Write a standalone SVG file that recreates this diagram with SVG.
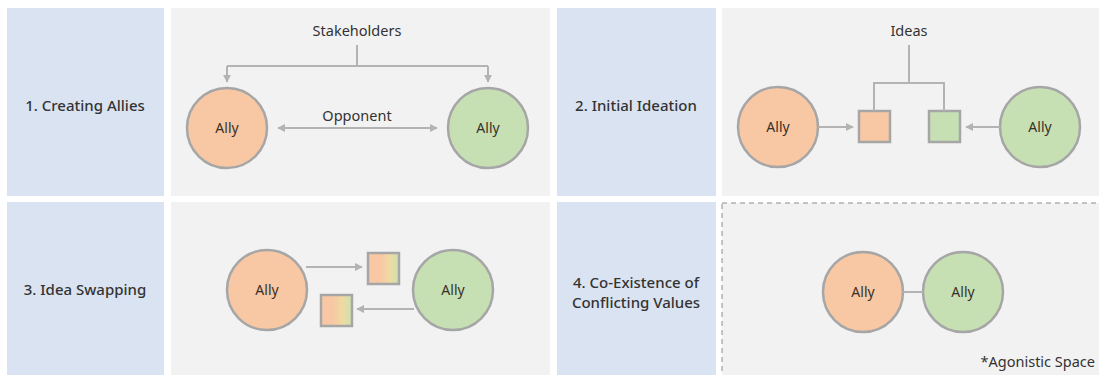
<svg xmlns="http://www.w3.org/2000/svg" width="1099" height="375" viewBox="0 0 1099 375">
<style>
.lbl{fill:#dae3f1}
.pan{fill:#f2f2f2}
.t{font-family:"Noto Sans","Liberation Sans",sans-serif;fill:#333}
.lt{font-size:15px;text-anchor:middle;font-weight:500}
.ct{font-size:14.5px;text-anchor:middle}
.ally{font-size:14px;text-anchor:middle;fill:#3a3028}
.or{fill:#f8c8a4;stroke:#a6a6a6;stroke-width:2.5}
.gr{fill:#c6e0b4;stroke:#a6a6a6;stroke-width:2.5}
.ln{fill:none;stroke:#b3b3b3;stroke-width:2}
</style>
<defs>
<marker id="ah" viewBox="0 0 10 10" refX="9" refY="5" markerWidth="4" markerHeight="4" orient="auto-start-reverse">
<path d="M0,0 L10,5 L0,10 z" fill="#b3b3b3"/>
</marker>
<linearGradient id="mix" x1="0" y1="0" x2="1" y2="0">
<stop offset="0" stop-color="#f8c8a4"/>
<stop offset="0.4" stop-color="#f8c8a4"/>
<stop offset="0.7" stop-color="#eedba2"/>
<stop offset="1" stop-color="#cde0b0"/>
</linearGradient>
</defs>
<rect width="1099" height="375" fill="#ffffff"/>

<g id="panel1">
<rect class="lbl" x="7" y="8" width="157" height="188"/>
<rect class="pan" x="171" y="8" width="379" height="188"/>
<text class="t lt" x="85" y="111">1. Creating Allies</text>
<text class="t ct" x="357" y="36">Stakeholders</text>
<text class="t ct" x="357" y="121">Opponent</text>
</g>
<g id="p1-ally-left"><circle class="or" cx="227" cy="128" r="40"/><text class="t ally" x="227" y="133">Ally</text></g>
<g id="p1-ally-right"><circle class="gr" cx="488" cy="128" r="40"/><text class="t ally" x="488" y="133">Ally</text></g>

<g id="panel2">
<rect class="lbl" x="557" y="8" width="159" height="188"/>
<rect class="pan" x="722" y="8" width="377" height="188"/>
<text class="t lt" x="636" y="111">2. Initial Ideation</text>
<text class="t ct" x="909" y="36">Ideas</text>
</g>
<g id="p2-ally-left"><circle class="or" cx="778" cy="127" r="40"/><text class="t ally" x="778" y="132">Ally</text></g>
<g id="p2-ally-right"><circle class="gr" cx="1040" cy="127" r="40"/><text class="t ally" x="1040" y="132">Ally</text></g>
<g id="p2-idea-orange"><rect class="or" x="859" y="111" width="31" height="31"/></g>
<g id="p2-idea-green"><rect class="gr" x="929" y="111" width="31" height="31"/></g>

<g id="panel3">
<rect class="lbl" x="7" y="202" width="157" height="173"/>
<rect class="pan" x="171" y="202" width="379" height="173"/>
<text class="t lt" x="85" y="295">3. Idea Swapping</text>
</g>
<g id="p3-ally-left"><circle class="or" cx="267" cy="290" r="40"/><text class="t ally" x="267" y="295">Ally</text></g>
<g id="p3-ally-right"><circle class="gr" cx="453" cy="290" r="40"/><text class="t ally" x="453" y="295">Ally</text></g>
<g id="p3-idea-upper"><rect x="368" y="253" width="31" height="31" fill="url(#mix)" stroke="#a6a6a6" stroke-width="2.5"/></g>
<g id="p3-idea-lower"><rect x="321" y="295" width="31" height="31" fill="url(#mix)" stroke="#a6a6a6" stroke-width="2.5"/></g>

<g id="panel4">
<rect class="lbl" x="557" y="202" width="159" height="173"/>
<rect class="pan" x="722" y="203" width="385" height="185" stroke="#8c8c8c" stroke-width="1" stroke-dasharray="5,4"/>
<text class="t lt" x="636" y="288">4. Co-Existence of</text>
<text class="t lt" x="636" y="308">Conflicting Values</text>
<text class="t" font-size="14.5" text-anchor="end" x="1095" y="367">*Agonistic Space</text>
</g>
<g id="p4-ally-left"><circle class="or" cx="863" cy="292" r="40"/><text class="t ally" x="863" y="297">Ally</text></g>
<g id="p4-ally-right"><circle class="gr" cx="963" cy="292" r="40"/><text class="t ally" x="963" y="297">Ally</text></g>

<g id="connectors">
<path class="ln" d="M357,45 V66"/>
<path class="ln" d="M227,66 H488"/>
<path class="ln" d="M227,66 V82" marker-end="url(#ah)"/>
<path class="ln" d="M488,66 V82" marker-end="url(#ah)"/>
<path class="ln" d="M278,128 H437" marker-start="url(#ah)" marker-end="url(#ah)"/>
<path class="ln" d="M909,45 V83 M874,111 V83 H944 V111"/>
<path class="ln" d="M818,127 H853" marker-end="url(#ah)"/>
<path class="ln" d="M1000,127 H966" marker-end="url(#ah)"/>
<path class="ln" d="M306,267 H362" marker-end="url(#ah)"/>
<path class="ln" d="M414,309 H357" marker-end="url(#ah)"/>
<path class="ln" d="M903,292 H923"/>
</g>
</svg>
